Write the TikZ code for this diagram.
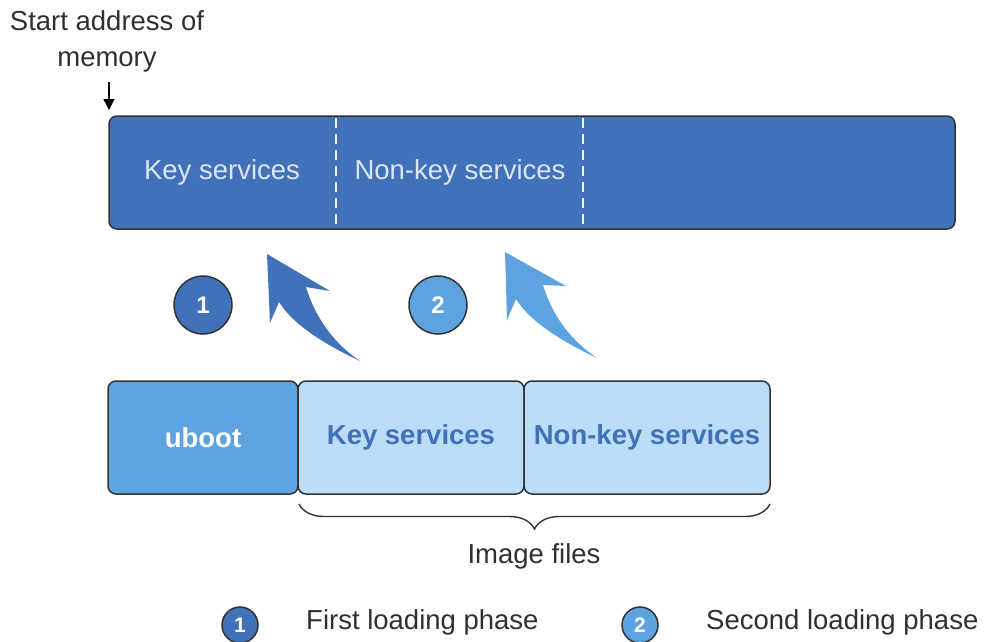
\documentclass[tikz,border=0pt]{standalone}
\usepackage{fontspec}
\setmainfont{Liberation Sans}
\usetikzlibrary{decorations.pathreplacing,arrows.meta}
\definecolor{dblue}{HTML}{4171B9}
\definecolor{mblue}{HTML}{5CA3E0}
\definecolor{lblue}{HTML}{BBDDF7}
\definecolor{edge}{HTML}{333333}
\definecolor{bartext}{HTML}{DCE6F5}
\definecolor{gtext}{HTML}{303030}
\tikzset{
  membar/.style={draw=edge, line width=1.5pt, fill=dblue, rounded corners=8pt, inner sep=0pt},
  sepline/.style={draw=white!92!dblue, line width=2pt, dash pattern=on 10pt off 6pt},
  bartxt/.style={text=bartext, font=\fontsize{27.5}{30}\selectfont},
  blockbox/.style={draw=edge, line width=1.5pt, rounded corners=8pt, inner sep=0pt, minimum height=113pt,
     font=\fontsize{27.5}{30}\selectfont\bfseries},
  phase/.style={circle, draw=edge, line width=1.5pt, minimum size=#1, inner sep=0pt, text=white, font=\fontsize{24}{26}\selectfont\bfseries},
  plain/.style={text=gtext, font=\fontsize{27.5}{36}\selectfont, inner sep=0pt},
}
\begin{document}
\begin{tikzpicture}[x=1pt,y=-1pt]
\useasboundingbox (0,0) rectangle (986,641);
% memory bar
\node[membar, minimum width=846pt, minimum height=113pt] (mem) at (532,172.5) {};
\draw[sepline] (336,118) -- (336,228);
\draw[sepline] (583,118) -- (583,228);
\node[bartxt] (mk) at (222,172) {Key services};
\node[bartxt] (mn) at (460,172) {Non-key services};
% start address label
\node[plain, align=center] (start) at (107,41) {Start address of\\memory};
\coordinate (arrtop) at (109,82);
\coordinate (arrend) at (109,110);
\draw[-{Triangle[length=11pt,width=11pt]}, line width=1.3pt, black] (arrtop) -- (arrend);
% bottom blocks
\node[blockbox, fill=mblue, text=white, minimum width=190pt] (uboot) at (203,437.5) {uboot};
\node[blockbox, fill=lblue, text=dblue, minimum width=226pt] (key) at (411,437.5) {Key services};
\node[blockbox, fill=lblue, text=dblue, minimum width=246pt] (nonkey) at (647,437.5) {Non-key services};
% brace
\draw[decorate, decoration={brace, mirror, amplitude=25pt}, line width=1.4pt, edge] (299,504) -- (770,504);
\node[plain] (img) at (534,556) {Image files};
% phase circles
\node[phase=58pt, fill=dblue] (c1) at (203,305) {1};
\node[phase=58pt, fill=mblue] (c2) at (438,305) {2};
% curved arrows
\fill[dblue] (267,254) -- (330,291) -- (306,287)
  .. controls (316,320) and (336,345) .. (360,361)
  .. controls (328,346) and (294,326) .. (279,302)
  -- (270,323) -- cycle;
\fill[mblue] (505,252) -- (566,286) -- (543,285)
  .. controls (553,318) and (573,342) .. (597,358)
  .. controls (565,343) and (531,323) .. (516,299)
  -- (507,320) -- cycle;
% legend
\node[phase=36pt, fill=dblue, font=\fontsize{21}{23}\selectfont\bfseries] (l1) at (240,625) {1};
\node[plain, anchor=west] (t1) at (306,622) {First loading phase};
\node[phase=36pt, fill=mblue, font=\fontsize{21}{23}\selectfont\bfseries] (l2) at (640,625) {2};
\node[plain, anchor=west] (t2) at (706,622) {Second loading phase};
\end{tikzpicture}
\end{document}
